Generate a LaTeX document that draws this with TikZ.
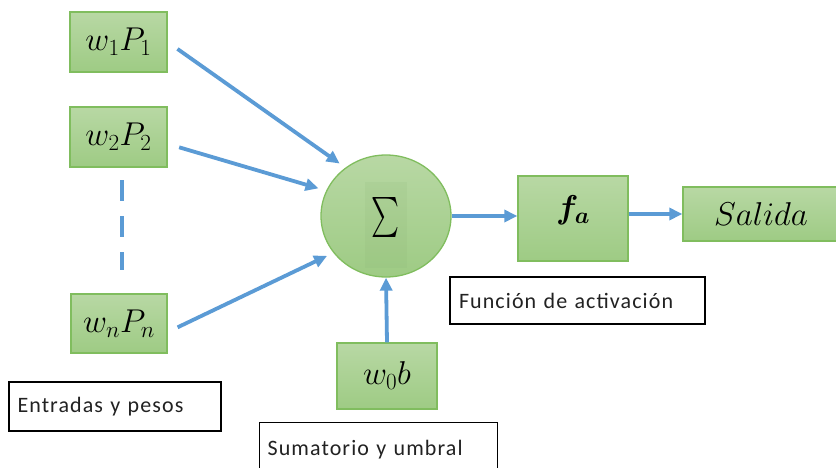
\RequirePackage{fix-cm}
\documentclass[tikz,border=0pt]{standalone}
\usepackage{fontspec}
\usepackage{amsmath}
\usepackage{bm}
\newfontfamily\calibri[LetterSpace=5]{Carlito}
\usetikzlibrary{shapes.geometric,arrows.meta,calc}
\definecolor{arrblue}{RGB}{91,155,213}
\definecolor{gtop}{RGB}{184,216,164}
\definecolor{gbot}{RGB}{158,203,132}
\definecolor{gborder}{RGB}{128,189,94}
\definecolor{txt}{RGB}{34,34,34}
\tikzset{
  gbox/.style={draw=gborder, line width=1.3pt, top color=gtop, bottom color=gbot, inner sep=0pt, text=black},
  lbox/.style={draw=black, line width=1.2pt, fill=white, inner sep=0pt, text=txt, font=\calibri\fontsize{22}{25}\selectfont},
  arr/.style={draw=arrblue, line width=3.8pt, -{Triangle[length=13pt,width=12pt]}},
  mfont/.style={font=\fontsize{33}{36}\selectfont}
}
\begin{document}
\begin{tikzpicture}[x=1pt,y=-1pt]
\useasboundingbox (0,0) rectangle (836,467);
% input boxes
\node[gbox, mfont, minimum width=97pt, minimum height=60pt] (w1) at (118.5,42) {$w_1P_1$};
\node[gbox, mfont, minimum width=97pt, minimum height=60pt] (w2) at (118.5,137) {$w_2P_2$};
\node[gbox, mfont, minimum width=96pt, minimum height=59pt] (wn) at (119,323.5) {$w_nP_n$};
% summation
\node[gbox, ellipse, minimum width=130pt, minimum height=122pt] (sum) at (386,216) {};
\fill[gbot!85!black, opacity=0.12] (365,182) rectangle (407,268);
\node[inner sep=0pt] (sig) at (385,217) {\resizebox*{28pt}{40pt}{$\textstyle\sum$}};
% bias
\node[gbox, mfont, minimum width=100pt, minimum height=66pt] (w0) at (387,376) {$w_0b$};
% activation
\node[gbox, minimum width=110pt, minimum height=85pt] (fa) at (573,218.5) {};
\node[font=\fontsize{33}{36}\selectfont] (falab) at (573,210) {$\bm{f_a}$};
% output
\node[gbox, font=\fontsize{33}{36}\selectfont, minimum width=156pt, minimum height=54pt] (sal) at (761,214) {$Salida$};
% label boxes
\node[lbox, minimum width=212pt, minimum height=49pt, text width=195pt, align=left] (lent) at (115,406.5) {Entradas y pesos};
\node[lbox, minimum width=255pt, minimum height=47pt, text width=237pt, align=left] (lfun) at (577.5,300.5) {Función de activación};
\node[lbox, minimum width=238pt, minimum height=54pt, text width=222pt, align=left, anchor=north west] (lsum) at (259,422) {\raisebox{-9pt}{Sumatorio y umbral}};
% arrows
\draw[arr, shorten <=12pt, shorten >=7pt] (w1.east) -- (sum.130);
\draw[arr, shorten <=12pt, shorten >=8pt] (w2.-8) -- (sum.157);
\draw[arr, shorten <=11pt, shorten >=7pt] (wn.-10) -- (sum.215);
\draw[arr] (w0.north) -- (sum.south);
\draw[arr] (sum.east) -- (sum.east -| fa.west);
\draw[arr] (sal.west -| fa.east) -- (sal.west);
% dashed ellipsis
\draw[draw=arrblue, line width=4pt, dash pattern=on 21pt off 15pt] (122,180) -- (122,270);
\end{tikzpicture}
\end{document}
